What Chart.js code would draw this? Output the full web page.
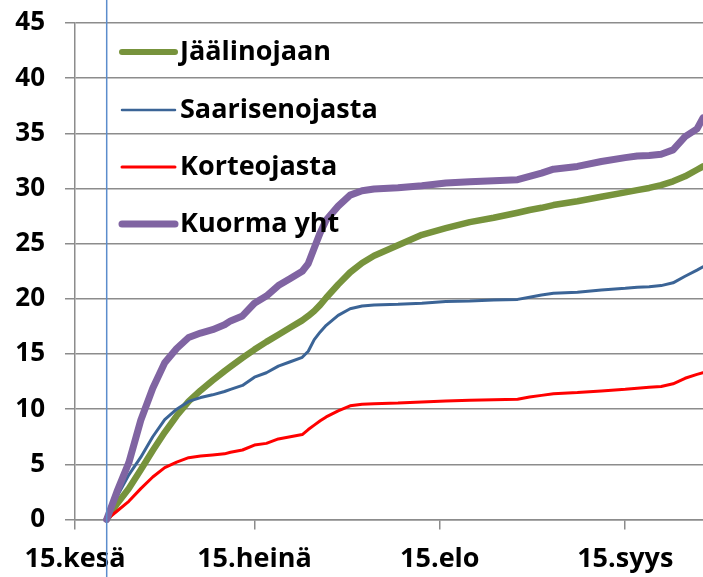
<!DOCTYPE html>
<html>
<head>
<meta charset="utf-8">
<script src="https://cdn.jsdelivr.net/npm/chart.js@4/dist/chart.umd.min.js"></script>
<style>
  html, body { margin: 0; padding: 0; background: #fff; }
  #wrap { width: 703px; height: 577px; }
</style>
</head>
<body>
<div id="wrap"><canvas id="chart" width="703" height="577"></canvas></div>
<script>
// päivät 15.6. alkaen
const days = [5.3, 7, 9, 11, 13, 15, 17, 19, 21, 23, 25, 26, 28, 30, 32, 34, 36, 38, 39, 40,
  41, 42, 44, 46, 48, 50, 54, 58, 62, 66, 70, 74, 76, 78, 80, 84, 88, 92, 94, 96,
  98, 100, 102, 104, 105];

const jaalinojaan = [0, 1.4, 2.8, 4.5, 6.25, 7.9, 9.4, 10.7, 11.7, 12.6, 13.45, 13.85, 14.65, 15.4, 16.1, 16.75, 17.4, 18.05, 18.45, 18.9,
  19.45, 20.1, 21.3, 22.4, 23.25, 23.9, 24.85, 25.8, 26.4, 26.95, 27.35, 27.8, 28.05, 28.25, 28.5, 28.85, 29.25, 29.65, 29.85, 30.05,
  30.3, 30.65, 31.1, 31.7, 32.0];

const saarisenojasta = [0, 2.05, 4.05, 5.65, 7.5, 9.05, 10.0, 10.7, 11.05, 11.3, 11.6, 11.8, 12.15, 12.9, 13.3, 13.9, 14.3, 14.7, 15.25, 16.3,
  17.0, 17.6, 18.5, 19.1, 19.35, 19.45, 19.5, 19.6, 19.75, 19.8, 19.9, 19.95, 20.15, 20.35, 20.5, 20.6, 20.8, 20.95, 21.05, 21.1,
  21.2, 21.45, 22.05, 22.6, 22.9];

const korteojasta = [0, 0.75, 1.65, 2.8, 3.85, 4.7, 5.2, 5.6, 5.75, 5.85, 5.95, 6.1, 6.3, 6.75, 6.9, 7.3, 7.5, 7.7, 8.15, 8.55,
  8.95, 9.3, 9.85, 10.3, 10.45, 10.5, 10.55, 10.65, 10.75, 10.8, 10.85, 10.9, 11.1, 11.25, 11.4, 11.5, 11.65, 11.8, 11.9, 11.98,
  12.05, 12.3, 12.8, 13.15, 13.3];

const kuormaYht = [0, 2.5, 5.15, 9.0, 11.9, 14.2, 15.5, 16.5, 16.9, 17.2, 17.65, 18.0, 18.45, 19.6, 20.25, 21.2, 21.85, 22.5, 23.2, 24.6,
  26.0, 27.15, 28.4, 29.4, 29.8, 29.95, 30.07, 30.25, 30.5, 30.62, 30.7, 30.8, 31.1, 31.4, 31.75, 32.0, 32.45, 32.8, 32.95, 33.0,
  33.1, 33.5, 34.7, 35.4, 36.4];

const tickDays = [0, 30, 61, 92];
const tickLabels = ["15.kesä", "15.heinä", "15.elo", "15.syys"];
const markerDay = 5.3;

function pts(vals) {
  return vals.map((v, i) => ({ x: days[i], y: v }));
}

const FONT = "'Open Sans', 'DejaVu Sans', sans-serif";
const GRID = "#8c8c8c";

// selite piirretään kuva-alueen sisään
const insideLegend = {
  id: "insideLegend",
  afterDatasetsDraw(chart) {
    const ctx = chart.ctx;
    const rows = [52, 110, 167, 224];
    ctx.save();
    chart.data.datasets.forEach((ds, i) => {
      const y = rows[i];
      ctx.beginPath();
      ctx.lineCap = "round";
      ctx.strokeStyle = ds.borderColor;
      ctx.lineWidth = ds.legendWidth;
      ctx.moveTo(122, y);
      ctx.lineTo(175, y);
      ctx.stroke();
      ctx.fillStyle = "#000";
      ctx.font = "bold 27px " + FONT;
      ctx.textBaseline = "middle";
      ctx.textAlign = "left";
      ctx.fillText(ds.label, 180, y);
    });
    ctx.restore();
  }
};

// pystyviiva alkupäivän kohdalla
const markerLine = {
  id: "markerLine",
  afterDraw(chart) {
    const ctx = chart.ctx;
    const x = chart.scales.x.getPixelForValue(markerDay);
    ctx.save();
    ctx.strokeStyle = "#5b8ccc";
    ctx.lineWidth = 1.5;
    ctx.beginPath();
    ctx.moveTo(x, 0);
    ctx.lineTo(x, chart.height);
    ctx.stroke();
    ctx.restore();
  }
};

new Chart(document.getElementById("chart").getContext("2d"), {
  type: "line",
  data: {
    datasets: [
      { label: "Jäälinojaan", data: pts(jaalinojaan), borderColor: "#77933c", borderWidth: 6.5, legendWidth: 6, order: 4 },
      { label: "Saarisenojasta", data: pts(saarisenojasta), borderColor: "#3b6496", borderWidth: 3, legendWidth: 2.5, order: 3 },
      { label: "Korteojasta", data: pts(korteojasta), borderColor: "#ff0000", borderWidth: 3, legendWidth: 3, order: 2 },
      { label: "Kuorma yht", data: pts(kuormaYht), borderColor: "#8064a2", borderWidth: 7, legendWidth: 7, order: 1 }
    ]
  },
  options: {
    responsive: false,
    animation: false,
    devicePixelRatio: 1,
    layout: { padding: { top: 23, right: 0, bottom: 0, left: 0 } },
    elements: {
      point: { radius: 0 },
      line: { tension: 0, fill: false, borderCapStyle: "round", borderJoinStyle: "round" }
    },
    datasets: { line: { clip: false } },
    plugins: { legend: { display: false }, tooltip: { enabled: false } },
    scales: {
      x: {
        type: "linear",
        min: 0,
        max: 105,
        afterBuildTicks(scale) {
          scale.ticks = tickDays.map(v => ({ value: v }));
        },
        afterFit(scale) {
          scale.height = 57.5;
          scale.paddingLeft = 0;
          scale.paddingRight = 0;
        },
        ticks: {
          autoSkip: false,
          maxRotation: 0,
          padding: 14,
          color: "#000",
          font: { family: FONT, size: 27, weight: "bold" },
          callback: (v) => tickLabels[tickDays.indexOf(v)]
        },
        grid: { drawOnChartArea: false, drawTicks: true, tickLength: 10, color: GRID, lineWidth: 1.5 },
        border: { display: true, color: GRID, width: 1.5 }
      },
      y: {
        min: 0,
        max: 45,
        afterFit(scale) {
          scale.width = 75;
          scale.paddingTop = 0;
          scale.paddingBottom = 0;
        },
        ticks: {
          stepSize: 5,
          padding: 20,
          color: "#000",
          font: { family: FONT, size: 26, weight: "bold" }
        },
        grid: { color: GRID, lineWidth: 1.5, tickLength: 10 },
        border: { display: true, color: GRID, width: 1.5 }
      }
    }
  },
  plugins: [insideLegend, markerLine]
});
</script>
</body>
</html>
